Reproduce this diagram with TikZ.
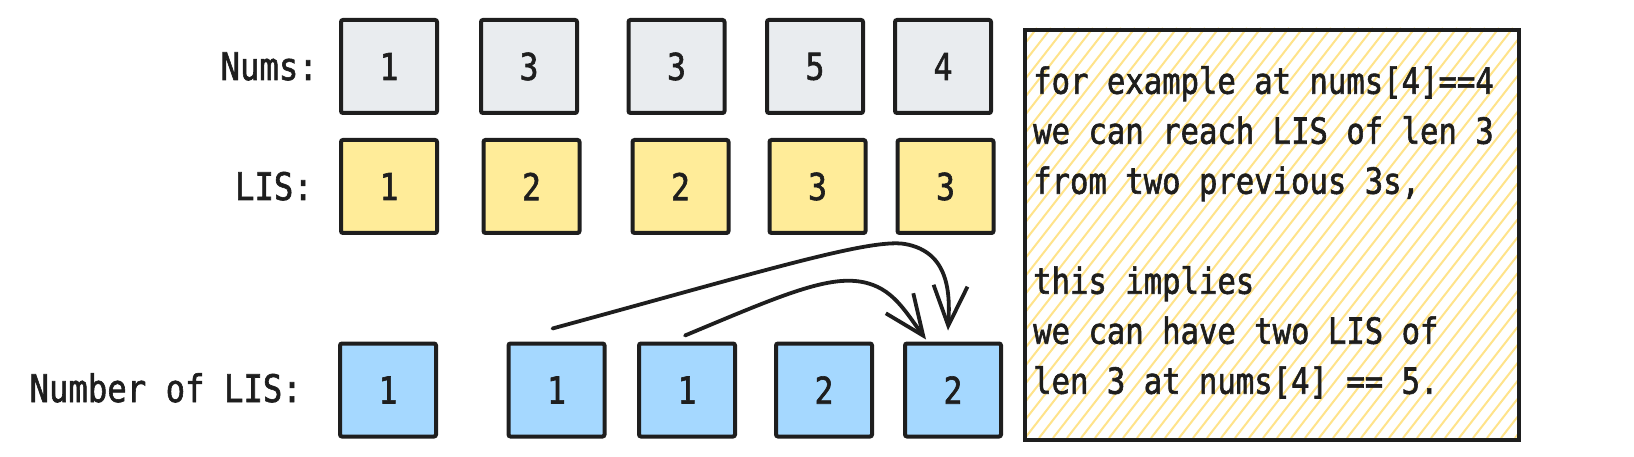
\documentclass[tikz,border=0pt]{standalone}
\usepackage{fontspec}
\newfontfamily\hand[FakeStretch=0.85,FakeBold=1.6]{DejaVu Sans Mono}
\usetikzlibrary{arrows.meta}
\definecolor{ink}{HTML}{1E1E1E}
\definecolor{gfill}{HTML}{E9ECEF}
\definecolor{yfill}{HTML}{FFEC99}
\definecolor{bfill}{HTML}{A5D8FF}
\definecolor{hatchc}{HTML}{FFE38A}
\begin{document}
\begin{tikzpicture}[x=1pt,y=-1pt,
  cell/.style={draw=ink, line width=4pt, rounded corners=2pt, minimum width=96pt, minimum height=93pt, inner sep=0pt, font=\hand\fontsize{37}{37}\selectfont, text=ink},
  numcell/.style={cell, fill=gfill},
  liscell/.style={cell, fill=yfill},
  cntcell/.style={cell, fill=bfill},
  lbl/.style={anchor=base east, font=\hand\fontsize{38}{38}\selectfont, text=ink, inner sep=0pt},
  link/.style={draw=ink, line width=3.8pt, line cap=round, -{Straight Barb[length=40pt,width=34pt]}}
]
\useasboundingbox (0,0) rectangle (1634,457);

% labels
\node[lbl] (lnums) at (318,80) {Nums:};
\node[lbl] (llis) at (313,200) {LIS:};
\node[lbl] (lcnt) at (302,402) {Number of LIS:};

% Nums row
\node[numcell] (a1) at (389,66.5) {1};
\node[numcell] (a2) at (529,66.5) {3};
\node[numcell] (a3) at (676.5,66.5) {3};
\node[numcell] (a4) at (815,66.5) {5};
\node[numcell] (a5) at (943,66.5) {4};

% LIS row
\node[liscell] (b1) at (389,186.5) {1};
\node[liscell] (b2) at (531.5,186.5) {2};
\node[liscell] (b3) at (680.5,186.5) {2};
\node[liscell] (b4) at (817.5,186.5) {3};
\node[liscell] (b5) at (945.5,186.5) {3};

% Number of LIS row
\node[cntcell] (n1) at (388,390) {1};
\node[cntcell] (n2) at (556.5,390) {1};
\node[cntcell] (n3) at (687,390) {1};
\node[cntcell] (n4) at (824,390) {2};
\node[cntcell] (n5) at (953,390) {2};

% arrows
\draw[link] ([xshift=-4pt,yshift=13pt]n2.north) .. controls (760,272) and (870,238) .. (905,244)
  .. controls (950,252) and (950,295) .. ([xshift=-5pt,yshift=11pt]n5.north);
\draw[link] ([xshift=-2pt,yshift=6pt]n3.north) .. controls (770,300) and (820,278) .. (855,281)
  .. controls (890,284) and (903,308) .. ([xshift=-27pt,yshift=2pt]n5.north);

% note box with hatch
\begin{scope}
  \clip (1023,28) rectangle (1517,438);
  \foreach \i in {0,...,60} {
    \draw[hatchc, line width=2pt] ({703+\i*14},438) -- ++(320,-410);
  }
\end{scope}
\node[draw=ink, line width=4pt, minimum width=494pt, minimum height=410pt, anchor=north west, inner sep=0pt] (note) at (1023,28) {};
\node[anchor=north west, align=left, inner sep=0pt, text=ink, font=\hand\fontsize{36}{50}\selectfont] (txt) at (1033,66) {for example at nums[4]==4\\we can reach LIS of len 3\\from two previous 3s,\\[50pt]this implies\\we can have two LIS of\\len 3 at nums[4] == 5.};
\end{tikzpicture}
\end{document}
